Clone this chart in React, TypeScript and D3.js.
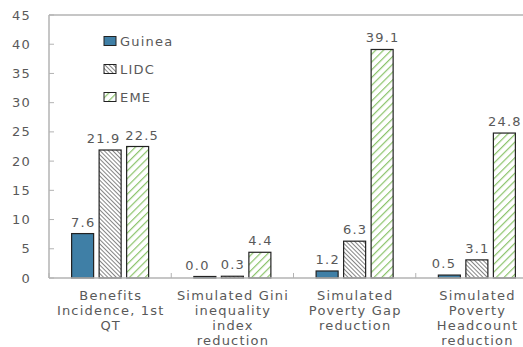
import React from "react";
import * as d3 from "d3";

const categories = [
  ["Benefits", "Incidence, 1st", "QT"],
  ["Simulated Gini", "inequality", "index", "reduction"],
  ["Simulated", "Poverty Gap", "reduction"],
  ["Simulated", "Poverty", "Headcount", "reduction"],
];
const seriesNames = ["Guinea", "LIDC", "EME"];
const guinea = [7.6, 0.0, 1.2, 0.5];
const lidc = [21.9, 0.3, 6.3, 3.1];
const eme = [22.5, 4.4, 39.1, 24.8];
const yTicks = [0, 5, 10, 15, 20, 25, 30, 35, 40, 45];

const W = 523;
const H = 347;
const left = 49;
const right = 538;
const top = 15;
const bottom = 278;
const textColor = "#595959";
const axisColor = "#b3b3b3";
const font = "'DejaVu Sans', 'Noto Sans', sans-serif";
const ls = 1.2;
// horizontal nudges of value labels (series index -> per category), to avoid overlaps as in the reference
const labelNudge = [
  [0, -8, 0, -6],
  [-7, 0, 0, 0],
  [4, 0, 0, 0],
];

export default function App() {
  const y = d3.scaleLinear().domain([0, 45]).range([bottom, top]);
  const x0 = d3
    .scaleBand<number>()
    .domain(d3.range(categories.length))
    .range([left, right])
    .paddingInner(0.37)
    .paddingOuter(0.185);
  const x1 = d3
    .scaleBand<number>()
    .domain(d3.range(3))
    .range([0, x0.bandwidth()])
    .paddingInner(0.2);
  const boundaries = d3.range(categories.length + 1).map(
    (i) => left + (i * (right - left)) / categories.length
  );
  const series = [guinea, lidc, eme];
  const fills = ["#3f7fa6", "url(#hatchLIDC)", "url(#hatchEME)"];
  const fmt = d3.format(".1f");

  return (
    <svg
      width={W}
      height={H}
      style={{ position: "absolute", left: 0, top: 0, background: "#fff" }}
      fontFamily={font}
    >
      <defs>
        <pattern id="hatchLIDC" patternUnits="userSpaceOnUse" width="3" height="3" patternTransform="rotate(-45)">
          <rect width="3" height="3" fill="#fff" />
          <line x1="0" y1="0" x2="0" y2="3" stroke="#333" strokeWidth="1.2" />
        </pattern>
        <pattern id="hatchEME" patternUnits="userSpaceOnUse" width="5.5" height="5.5" patternTransform="rotate(45)">
          <rect width="5.5" height="5.5" fill="#fff" />
          <line x1="0" y1="0" x2="0" y2="5.5" stroke="#8cc46c" strokeWidth="2.4" />
        </pattern>
      </defs>

      {/* plot frame */}
      <line x1={left} x2={W} y1={top} y2={top} stroke={axisColor} strokeWidth={1.5} />
      <line x1={left} x2={left} y1={top} y2={bottom} stroke={axisColor} strokeWidth={1.5} />

      {/* y ticks */}
      {yTicks.map((t) => (
        <g key={t}>
          <line x1={left} x2={left + 5} y1={y(t)} y2={y(t)} stroke={axisColor} strokeWidth={1} />
          <text
            x={left - 18}
            y={y(t)}
            dy="0.35em"
            textAnchor="end"
            fontSize={13}
            letterSpacing={ls}
            fill={textColor}
          >
            {t}
          </text>
        </g>
      ))}

      {/* bars */}
      {categories.map((c, ci) => (
        <g key={ci} transform={`translate(${x0(ci)},0)`}>
          {series.map((s, si) => {
            const v = s[ci];
            const bx = x1(si)!;
            const bw = x1.bandwidth();
            const by = y(v);
            const bh = Math.max(bottom - by, 1.5);
            return (
              <g key={si}>
                <rect
                  x={bx}
                  y={bottom - bh}
                  width={bw}
                  height={bh}
                  fill={fills[si]}
                  stroke="#222"
                  strokeWidth={1.2}
                />
                <text
                  x={bx + bw / 2 + ls / 2 + labelNudge[si][ci]}
                  y={bottom - bh - 7}
                  textAnchor="middle"
                  fontSize={13}
                  letterSpacing={ls}
                  fill={textColor}
                >
                  {fmt(v)}
                </text>
              </g>
            );
          })}
        </g>
      ))}

      {/* x axis */}
      <line x1={left} x2={W} y1={bottom} y2={bottom} stroke={axisColor} strokeWidth={1.5} />
      {boundaries.map((b, i) => (
        <line key={i} x1={b} x2={b} y1={bottom} y2={bottom - 5} stroke={axisColor} strokeWidth={1} />
      ))}

      {/* category labels */}
      {categories.map((lines, ci) => (
        <text
          key={ci}
          x={x0(ci)! + x0.bandwidth() / 2}
          y={300}
          textAnchor="middle"
          fontSize={13}
          letterSpacing={ls}
          fill={textColor}
        >
          {lines.map((l, li) => (
            <tspan key={li} x={x0(ci)! + x0.bandwidth() / 2 + ls / 2} dy={li === 0 ? 0 : 15}>
              {l}
            </tspan>
          ))}
        </text>
      ))}

      {/* legend */}
      {seriesNames.map((n, i) => (
        <g key={n} transform={`translate(104, ${41 + i * 28})`}>
          <rect x={0} y={-4.5} width={12} height={9} fill={fills[i]} stroke="#222" strokeWidth={1} />
          <text x={16} y={0} dy="0.35em" fontSize={13} letterSpacing={ls} fill={textColor}>
            {n}
          </text>
        </g>
      ))}
    </svg>
  );
}
